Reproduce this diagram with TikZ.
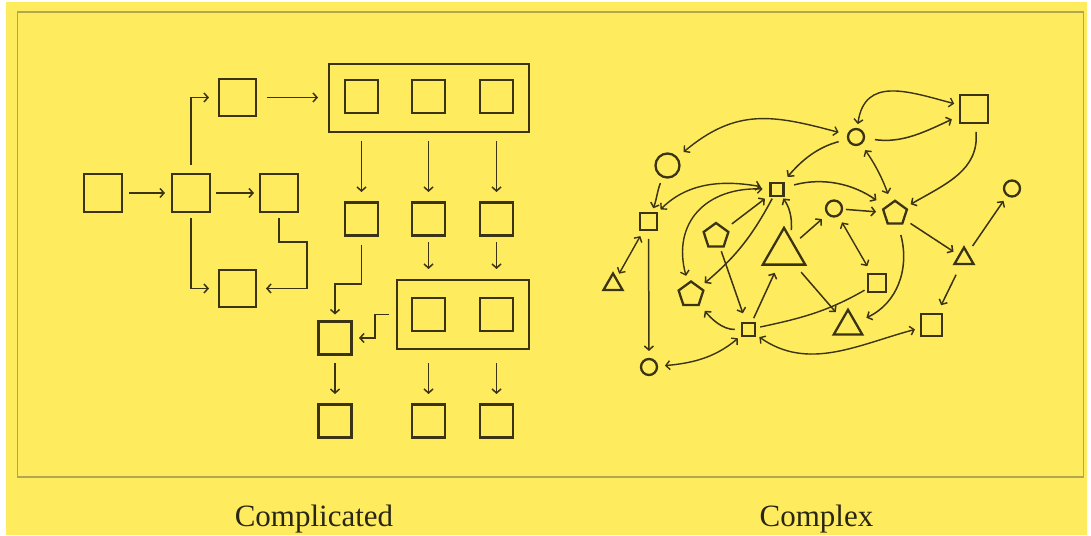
\documentclass[tikz,border=0pt]{standalone}
\usepackage{fontspec}
\setmainfont{Liberation Serif}
\usetikzlibrary{arrows.meta,shapes.geometric}
\definecolor{bgy}{RGB}{255,235,94}
\definecolor{ink}{RGB}{58,52,20}
\definecolor{frm}{RGB}{178,166,80}
\definecolor{txt}{RGB}{40,38,22}
\begin{document}
\begin{tikzpicture}[x=1pt,y=1pt,
  box/.style={draw=ink,line width=2.8pt,minimum size=#1,inner sep=0pt,outer sep=0pt},
  bigbox/.style={draw=ink,line width=2.8pt,inner sep=0pt,outer sep=0pt},
  sq/.style={draw=ink,line width=2.3pt,minimum size=#1,inner sep=0pt,outer sep=0pt},
  circ/.style={circle,draw=ink,line width=2.3pt,minimum size=#1,inner sep=0pt,outer sep=0pt},
  pent/.style={regular polygon,regular polygon sides=5,draw=ink,line width=2.3pt,minimum size=#1,inner sep=0pt,outer sep=0pt},
  tri/.style={regular polygon,regular polygon sides=3,draw=ink,line width=2.3pt,minimum size=#1,inner sep=0pt,outer sep=0pt},
  arr/.style={draw=ink,line width=1.5pt,-{Straight Barb[length=4pt,width=9pt]}},
  dbl/.style={draw=ink,line width=1.4pt,{Straight Barb[length=4pt,width=9pt]}-{Straight Barb[length=4pt,width=9pt]}},
  ln/.style={draw=ink,line width=1.4pt},
  lbl/.style={font=\fontsize{31}{31}\selectfont,text=txt,anchor=base,inner sep=0pt}]
\useasboundingbox (0,0) rectangle (1091,535);
\fill[white] (0,0) rectangle (1091,535);
\fill[bgy] (6,0) rectangle (1087,533);
\draw[frm,line width=1.4pt] (17.5,58) rectangle (1083.5,523);

% ---------- Complicated ----------
\node[box=38pt] (A) at (103,342) {};
\node[box=38pt] (B) at (191,342) {};
\node[box=38pt] (C) at (279,342) {};
\node[box=37pt] (D) at (237.5,437.5) {};
\node[box=37pt] (E) at (237.5,246.5) {};
\node[bigbox,minimum width=200pt,minimum height=68pt] (G1) at (429,437) {};
\node[box=33pt] (g11) at (361.5,438.5) {};
\node[box=33pt] (g12) at (428.5,438.5) {};
\node[box=33pt] (g13) at (496.5,438.5) {};
\node[box=33pt] (m1) at (361.5,316) {};
\node[box=33pt] (m2) at (428.5,316) {};
\node[box=33pt] (m3) at (496.5,316) {};
\node[bigbox,minimum width=132pt,minimum height=69pt] (G2) at (463,220.5) {};
\node[box=33pt] (g21) at (428.5,220.5) {};
\node[box=33pt] (g22) at (496.5,220.5) {};
\node[box=33pt] (F) at (335,197) {};
\node[box=33pt] (b1) at (335,114) {};
\node[box=33pt] (b2) at (428.5,114) {};
\node[box=33pt] (b3) at (496.5,114) {};

\draw[arr,shorten <=7pt,shorten >=7pt] (A) -- (B);
\draw[arr,shorten <=6pt,shorten >=6pt] (B) -- (C);
\draw[arr,shorten <=9pt,shorten >=10pt] (B.north) |- (D.west);
\draw[arr,shorten <=6pt,shorten >=10pt] (B.south) |- (E.west);
\draw[arr,shorten <=11pt,shorten >=11pt] (D) -- (G1.west |- D);
\draw[arr,shorten <=6pt,shorten >=10pt] (C.south) -- ++(0,-30) -| (307,246.5) -- (E.east);
\draw[arr,shorten <=9pt,shorten >=10.5pt] (g11.south |- G1.south) -- (m1.north);
\draw[arr,shorten <=9pt,shorten >=10.5pt] (g12.south |- G1.south) -- (m2.north);
\draw[arr,shorten <=9pt,shorten >=10.5pt] (g13.south |- G1.south) -- (m3.north);
\draw[arr,shorten <=6.5pt,shorten >=11pt] (m2.south) -- (G2.north -| m2);
\draw[arr,shorten <=6.5pt,shorten >=11pt] (m3.south) -- (G2.north -| m3);
\draw[arr,shorten <=9.5pt,shorten >=7pt] (m1.south) -- (361.5,251) -| (F.north);
\draw[arr,shorten <=8pt,shorten >=7.5pt] (G2.west) -- (375,220.5) |- (F.east);
\draw[arr,shorten <=8.5pt,shorten >=10.5pt] (F.south) -- (b1.north);
\draw[arr,shorten <=14pt,shorten >=10.5pt] (G2.south -| b2) -- (b2.north);
\draw[arr,shorten <=14pt,shorten >=10.5pt] (G2.south -| b3) -- (b3.north);

% ---------- Complex ----------
\node[sq=28pt] (Sq1) at (974,426) {};
\node[circ=16pt] (C1) at (856,398) {};
\node[circ=24pt] (C2) at (667.5,369.5) {};
\node[sq=13pt] (Sq2) at (777,345.5) {};
\node[sq=17pt] (Sq3) at (648.5,313.5) {};
\node[pent=26pt] (P1) at (716,299) {};
\node[tri=49pt] (T1) at (784,282.6) {};
\node[circ=16pt] (C3) at (834,326.5) {};
\node[pent=25pt] (P2) at (895,321.7) {};
\node[circ=16pt] (C4) at (1012,346.5) {};
\node[tri=22pt] (T2) at (964,276.5) {};
\node[tri=22pt] (T3) at (613,250.5) {};
\node[pent=26pt] (P3) at (691,240.5) {};
\node[sq=18pt] (Sq4) at (877,252) {};
\node[tri=33pt] (T4) at (848,208.7) {};
\node[sq=21.5pt] (Sq6) at (931.5,210) {};
\node[sq=13.5pt] (Sq5) at (748.5,205.5) {};
\node[circ=16pt] (C5) at (649,168) {};

\draw[dbl,shorten <=9pt,shorten >=10pt] (C2) to[out=40,in=165,looseness=1.15] (C1);
\draw[dbl,shorten <=5pt,shorten >=6pt] (C1) to[out=82,in=165,looseness=1.3] (Sq1);
\draw[arr,shorten <=11pt,shorten >=9pt] (C1) to[out=-8,in=205] (Sq1);
\draw[arr,shorten <=9pt,shorten >=7pt] (Sq1) to[out=-85,in=30,looseness=1.1] (P2);
\draw[arr,shorten <=10pt,shorten >=8pt] (C1) to[out=195,in=50] (Sq2);
\draw[dbl,shorten <=8pt,shorten >=10pt] (C1) to[out=-55,in=110] (P2);
\draw[arr,shorten <=11pt,shorten >=12pt] (Sq2) to[out=15,in=145] (P2);
\draw[arr,shorten <=7pt,shorten >=5pt] (C2) to[out=248,in=70] (Sq3);
\draw[dbl,shorten <=5pt,shorten >=10pt] (Sq3) to[out=45,in=170] (Sq2);
\draw[dbl,shorten <=8pt,shorten >=8pt] (P3) to[out=105,in=178,looseness=1.3] (Sq2);
\draw[arr,shorten <=9pt,shorten >=7pt] (P1) -- (Sq2);
\draw[arr,shorten <=3pt,shorten >=7pt] (Sq2) to[out=242,in=40] (P3);
\draw[arr,shorten <=10pt,shorten >=3pt] (T1.60) to[out=88,in=-55] (Sq2);
\draw[arr,shorten <=9pt,shorten >=8pt] (T1) -- (C3);
\draw[arr,shorten <=4pt,shorten >=8pt] (C3) -- (P2);
\draw[dbl,shorten <=8pt,shorten >=9pt] (C3) -- (Sq4);
\draw[arr,shorten <=8pt,shorten >=7pt] (P2) -- (T2);
\draw[arr,shorten <=9pt,shorten >=7pt] (T2) -- (C4);
\draw[arr,shorten <=12pt,shorten >=10pt] (T2) -- (Sq6);
\draw[arr,shorten <=12pt,shorten >=12pt] (P2) to[out=-75,in=25,looseness=1.1] (T4);
\draw[dbl,shorten <=7pt,shorten >=6pt] (Sq3) -- (T3);
\draw[arr,shorten <=9pt,shorten >=8pt] (Sq3) -- (C5);
\draw[arr,shorten <=5pt,shorten >=10pt] (P1) -- (Sq5);
\draw[arr,shorten <=5pt,shorten >=9pt] (Sq5) -- (T1);
\draw[arr,shorten <=10pt,shorten >=10pt] (T1) -- (T4);
\draw[arr,shorten <=7pt,shorten >=9pt] (Sq5) to[out=180,in=-50] (P3);
\draw[ln,shorten <=5pt,shorten >=4pt] (Sq5) to[out=12,in=210] (Sq4);
\draw[dbl,shorten <=8pt,shorten >=5pt] (C5) to[out=5,in=220] (Sq5);
\draw[dbl,shorten <=5pt,shorten >=6pt] (Sq5) to[out=-35,in=195] (Sq6);

\node[lbl] (t1) at (314,9) {Complicated};
\node[lbl] (t2) at (816.5,9) {Complex};
\end{tikzpicture}
\end{document}
